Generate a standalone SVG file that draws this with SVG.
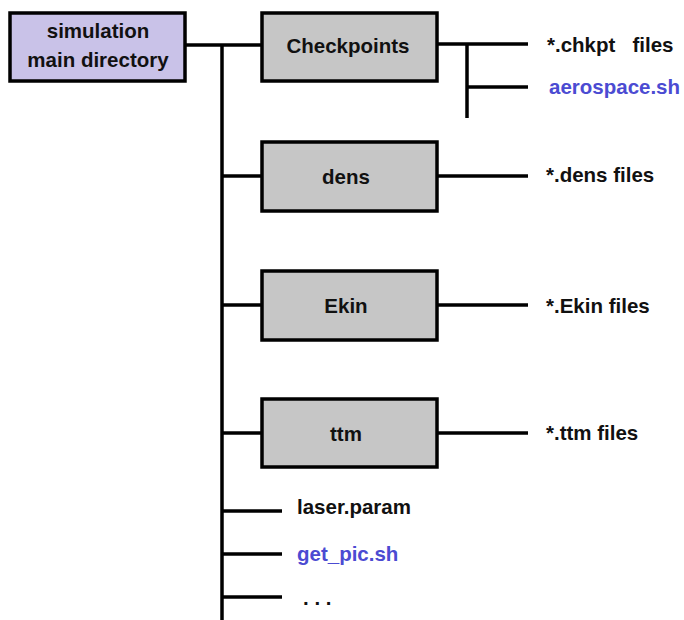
<svg xmlns="http://www.w3.org/2000/svg" width="684" height="620" viewBox="0 0 684 620">
<style>
.box{stroke:#000;stroke-width:3.5}
.main{fill:#C9C2E8}
.dir{fill:#C6C6C6}
.ln{stroke:#000;stroke-width:3.5;fill:none;stroke-linecap:butt}
text{font-family:"Liberation Sans",Arial,sans-serif;font-weight:bold;font-size:20.5px;fill:#111;white-space:pre}
.blue{fill:#4B4BD2}
.c{text-anchor:middle}
</style>
<rect width="684" height="620" fill="#fff"/>
<g id="connectors">
<line class="ln" x1="185" y1="45" x2="262" y2="45"/>
<line class="ln" x1="222" y1="45" x2="222" y2="620"/>
<line class="ln" x1="437" y1="44" x2="528" y2="44"/>
<line class="ln" x1="467" y1="44" x2="467" y2="118"/>
<line class="ln" x1="467" y1="87" x2="528" y2="87"/>
<line class="ln" x1="222" y1="176" x2="262" y2="176"/>
<line class="ln" x1="437" y1="176" x2="528" y2="176"/>
<line class="ln" x1="222" y1="305" x2="262" y2="305"/>
<line class="ln" x1="437" y1="305" x2="528" y2="305"/>
<line class="ln" x1="222" y1="433" x2="262" y2="433"/>
<line class="ln" x1="437" y1="433" x2="528" y2="433"/>
<line class="ln" x1="222" y1="511" x2="282" y2="511"/>
<line class="ln" x1="222" y1="554" x2="282" y2="554"/>
<line class="ln" x1="222" y1="597" x2="282" y2="597"/>
</g>
<g id="main">
<rect class="box main" x="10" y="13" width="175" height="68"/>
<text class="c" x="98" y="38">simulation</text>
<text class="c" x="98" y="67">main directory</text>
</g>
<g id="checkpoints">
<rect class="box dir" x="262" y="13" width="175" height="68"/>
<text class="c" x="348" y="53">Checkpoints</text>
</g>
<g id="chkpt-files"><text x="547" y="52" xml:space="preserve">*.chkpt   files</text></g>
<g id="aerospace"><text class="blue" x="549" y="94">aerospace.sh</text></g>
<g id="dens">
<rect class="box dir" x="262" y="142" width="175" height="69"/>
<text class="c" x="346" y="184">dens</text>
</g>
<g id="dens-files"><text x="546" y="182">*.dens files</text></g>
<g id="ekin">
<rect class="box dir" x="262" y="271" width="175" height="69"/>
<text class="c" x="346" y="313">Ekin</text>
</g>
<g id="ekin-files"><text x="546" y="313">*.Ekin files</text></g>
<g id="ttm">
<rect class="box dir" x="262" y="399" width="175" height="68"/>
<text class="c" x="346" y="441">ttm</text>
</g>
<g id="ttm-files"><text x="546" y="440">*.ttm files</text></g>
<g id="laser"><text x="297" y="514">laser.param</text></g>
<g id="getpic"><text class="blue" x="297" y="561">get_pic.sh</text></g>
<g id="more"><text x="303" y="605">. . .</text></g>
</svg>
